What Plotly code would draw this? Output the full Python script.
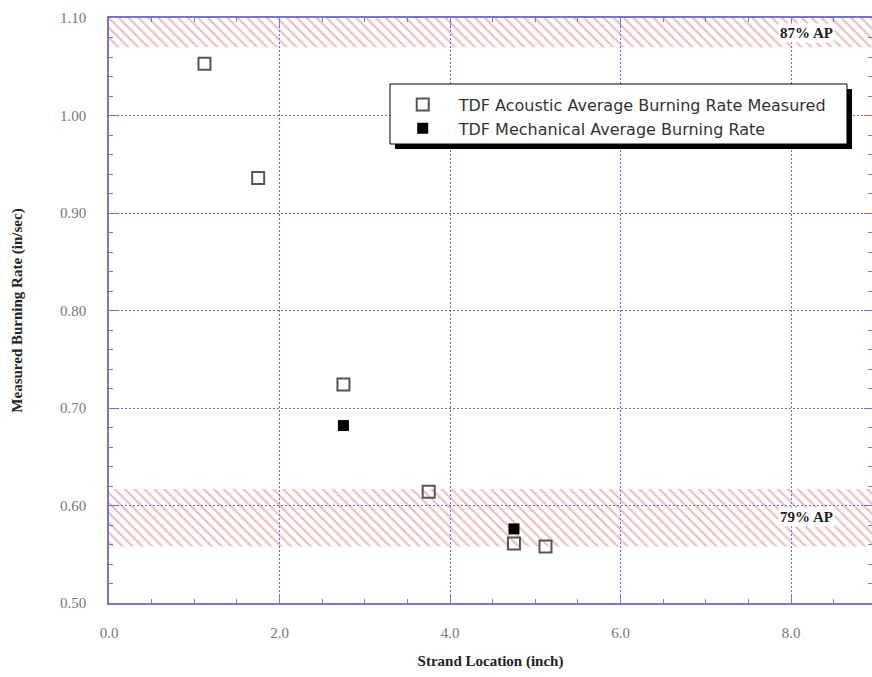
import plotly.graph_objects as go

# Data
acoustic_x = [1.12, 1.75, 2.75, 3.75, 4.75, 5.12]
acoustic_y = [1.053, 0.936, 0.724, 0.614, 0.561, 0.558]
mech_x = [2.75, 4.75]
mech_y = [0.682, 0.576]

band_high = [1.070, 1.100]   # 87% AP
band_low = [0.558, 0.617]    # 79% AP

x_range = [0, 8.95]
y_range = [0.5, 1.10]

axis_col = "#7773d0"
grid_col = "#6a5fe0"
hatch_col = "#e07878"

fig = go.Figure()

for lo, hi in [band_high, band_low]:
    fig.add_trace(go.Scatter(
        x=[x_range[0], x_range[1], x_range[1], x_range[0], x_range[0]],
        y=[lo, lo, hi, hi, lo],
        mode="lines", line=dict(width=0), fill="toself",
        fillcolor="rgba(0,0,0,0)",
        fillpattern=dict(shape="\\", fgcolor=hatch_col, bgcolor="rgba(0,0,0,0)",
                         size=7, solidity=0.3),
        showlegend=False, hoverinfo="skip"))

fig.add_trace(go.Scatter(
    x=acoustic_x, y=acoustic_y, mode="markers",
    name="TDF Acoustic Average Burning Rate Measured",
    marker=dict(symbol="square-open", size=12, color="#555555", line=dict(width=2))))
fig.add_trace(go.Scatter(
    x=mech_x, y=mech_y, mode="markers",
    name="TDF Mechanical Average Burning Rate",
    marker=dict(symbol="square", size=11, color="#000000")))

fig.add_annotation(x=8.52, y=1.085, text="<b>87% AP</b>", showarrow=False,
                   xanchor="right", yanchor="middle", bgcolor="white",
                   font=dict(family="Liberation Serif", size=15, color="#222"))
fig.add_annotation(x=8.52, y=0.588, text="<b>79% AP</b>", showarrow=False,
                   xanchor="right", yanchor="middle", bgcolor="white",
                   font=dict(family="Liberation Serif", size=15, color="#222"))

# legend box with drop shadow
fig.add_shape(type="rect", xref="paper", yref="paper",
              x0=0.3748, x1=0.9738, y0=0.7761, y1=0.8786,
              fillcolor="black", line=dict(width=0), layer="above")
fig.add_shape(type="rect", xref="paper", yref="paper",
              x0=0.3683, x1=0.9672, y0=0.7846, y1=0.8872,
              fillcolor="white", line=dict(width=1, color="black"), layer="above")

fig.update_layout(
    width=872, height=677,
    margin=dict(l=109, r=0, t=18, b=74, autoexpand=False),
    paper_bgcolor="white", plot_bgcolor="white",
    font=dict(family="Liberation Serif", color="#555555"),
    legend=dict(x=0.364, y=0.881, xanchor="left", yanchor="top",
                bgcolor="rgba(0,0,0,0)", borderwidth=0,
                font=dict(family="DejaVu Sans", size=16, color="#333"),
                itemwidth=62, tracegroupgap=0),
    xaxis=dict(range=x_range, dtick=2, tick0=0, tickformat=".1f",
               ticks="inside", ticklen=8, tickcolor=axis_col,
               minor=dict(dtick=0.5, ticks="inside", ticklen=4, tickcolor=axis_col, showgrid=False),
               showline=True, linecolor=axis_col, linewidth=1.5, mirror="allticks",
               showgrid=True, gridcolor=grid_col, griddash="2px,2px", gridwidth=1,
               zeroline=False, ticklabelstandoff=15,
               tickfont=dict(size=15, color="#777"),
               title=dict(text="<b>Strand Location (inch)</b>", standoff=16,
                          font=dict(size=15, color="#222"))),
    yaxis=dict(range=y_range, dtick=0.1, tick0=0.5, tickformat=".2f",
               ticks="inside", ticklen=8, tickcolor=axis_col,
               minor=dict(dtick=0.02, ticks="inside", ticklen=4, tickcolor=axis_col, showgrid=False),
               showline=True, linecolor=axis_col, linewidth=1.5, mirror="allticks",
               showgrid=True, gridcolor=grid_col, griddash="2px,2px", gridwidth=1,
               zeroline=False, ticklabelstandoff=18,
               tickfont=dict(size=15, color="#777"),
               title=dict(text="<b>Measured Burning Rate (in/sec)</b>", standoff=34,
                          font=dict(size=15, color="#222"))),
)

fig.write_html("out.html", default_width="872px", default_height="677px",
               config={"responsive": False, "displayModeBar": False},
               post_script="document.body.style.margin='0px';document.body.style.overflow='hidden';")
